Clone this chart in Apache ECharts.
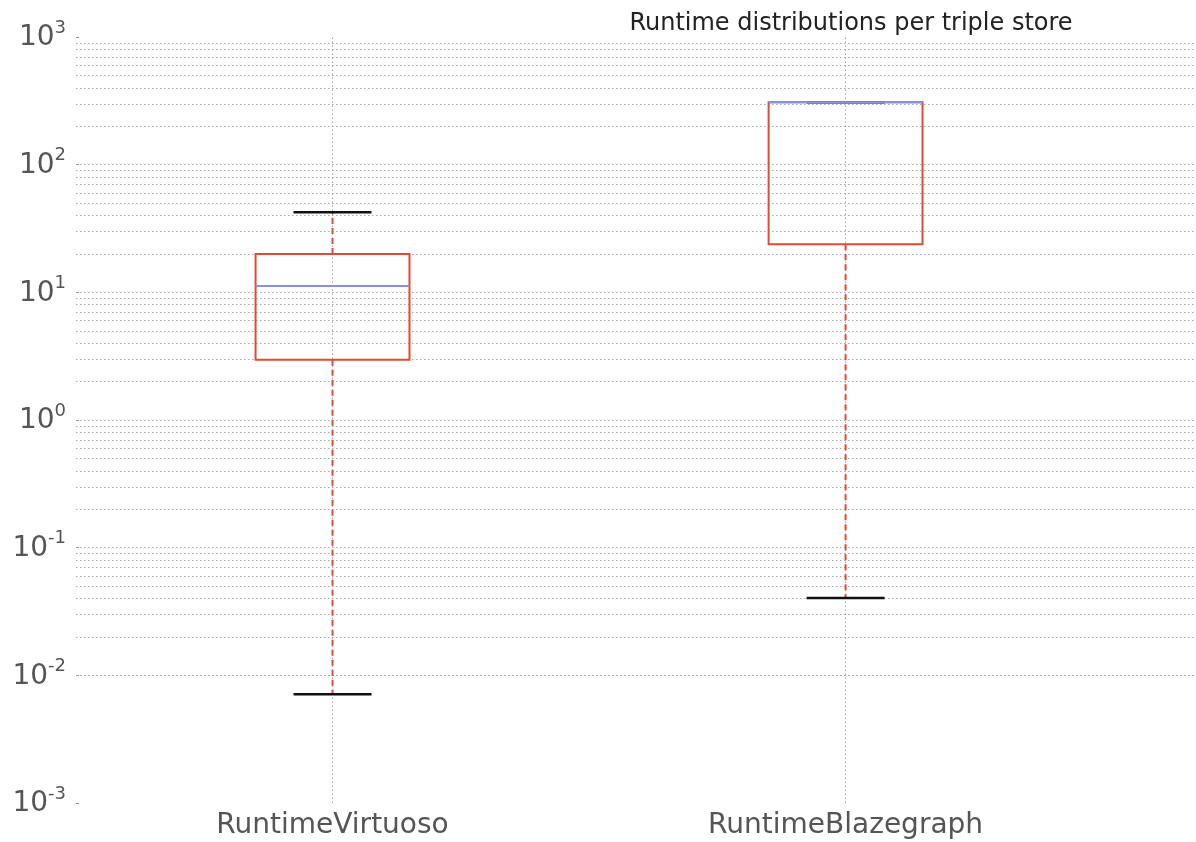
<!DOCTYPE html>
<html>
<head>
<meta charset="utf-8">
<script src="https://cdn.jsdelivr.net/npm/echarts@6/dist/echarts.min.js"></script>
<style>
html,body{margin:0;padding:0;background:#fff;}
#chart{width:1196px;height:842px;}
</style>
</head>
<body>
<div id="chart"></div>
<script>
const categories = ['RuntimeVirtuoso', 'RuntimeBlazegraph'];
const positions = [1, 2];
const whiskerLow = [0.0071, 0.0404];
const q1 = [2.97, 23.8];
const median = [11.2, 308];
const q3 = [20.0, 308];
const whiskerHigh = [42.3, 308];
const title = 'Runtime distributions per triple store';

// grid line values: 1..9 x each decade inside the axis range
const gridValues = [];
for (let k = -3; k <= 2; k++) {
  for (let m = 1; m <= 9; m++) {
    if (k === -3 && m === 1) continue;
    gridValues.push(m * Math.pow(10, k));
  }
}

const boxData = positions.map((p, i) => [p, whiskerLow[i], q1[i], median[i], q3[i], whiskerHigh[i]]);

const FONT = 'DejaVu Sans';
const RED = '#e24a33';
const BLUE = '#8c8ee0';

const chart = echarts.init(document.getElementById('chart'));
chart.setOption({
  animation: false,
  backgroundColor: '#fff',
  title: {
    text: title,
    left: 846,
    top: 7,
    textAlign: 'center',
    textStyle: { fontFamily: FONT, fontSize: 24, fontWeight: 'normal', color: '#222' }
  },
  grid: { left: 76, right: 0, top: 37, bottom: 39, containLabel: false },
  xAxis: {
    type: 'value',
    min: 0.5,
    max: 2.683,
    axisLine: { show: false },
    axisTick: { show: false, customValues: positions },
    splitLine: { show: false },
    axisLabel: {
      customValues: positions,
      formatter: function (v) {
        const i = positions.indexOf(Math.round(v));
        return i >= 0 ? categories[i] : '';
      },
      fontFamily: FONT, fontSize: 28, color: '#555', margin: 9
    }
  },
  yAxis: {
    type: 'log',
    logBase: 10,
    min: 0.001,
    max: 1000,
    axisLine: { show: false },
    axisTick: { show: true, inside: true, length: 3, lineStyle: { color: '#888' } },
    splitLine: { show: false },
    axisLabel: {
      margin: 10,
      formatter: function (v) {
        const e = Math.round(Math.log10(v));
        return '{b|10}{s|' + e + '}';
      },
      rich: {
        b: { fontFamily: FONT, fontSize: 28, color: '#555', verticalAlign: 'bottom', lineHeight: 30 },
        s: { fontFamily: FONT, fontSize: 18, color: '#555', verticalAlign: 'bottom', lineHeight: 30, padding: [0, 0, 15, 0] }
      }
    }
  },
  series: [{
    type: 'custom',
    data: boxData,
    clip: false,
    z: 5,
    renderItem: function (params, api) {
      const x = api.value(0);
      const lo = api.value(1), a = api.value(2), md = api.value(3), b = api.value(4), hi = api.value(5);
      const hw = 0.15, cw = 0.076;
      const pL = api.coord([x - hw, b]);
      const pR = api.coord([x + hw, a]);
      const c = api.coord([x, md]);
      const yLo = api.coord([x, lo])[1];
      const yHi = api.coord([x, hi])[1];
      const yA = api.coord([x, a])[1];
      const yB = api.coord([x, b])[1];
      const cL = api.coord([x - cw, lo])[0];
      const cR = api.coord([x + cw, lo])[0];
      const children = [];
      children.push({ type: 'line', shape: { x1: c[0], y1: yA, x2: c[0], y2: yLo }, style: { stroke: RED, lineWidth: 2, lineDash: [6, 4] } });
      if (yHi < yB - 0.5) {
        children.push({ type: 'line', shape: { x1: c[0], y1: yB, x2: c[0], y2: yHi }, style: { stroke: RED, lineWidth: 2, lineDash: [6, 4] } });
      }
      children.push({ type: 'line', shape: { x1: cL, y1: yLo, x2: cR, y2: yLo }, style: { stroke: '#111', lineWidth: 2.5 } });
      children.push({ type: 'line', shape: { x1: cL, y1: yHi, x2: cR, y2: yHi }, style: { stroke: '#111', lineWidth: 2.5 } });
      children.push({ type: 'rect', shape: { x: pL[0], y: yB, width: pR[0] - pL[0], height: yA - yB }, style: { fill: 'none', stroke: RED, lineWidth: 2 } });
      children.push({ type: 'line', shape: { x1: pL[0], y1: c[1], x2: pR[0], y2: c[1] }, style: { stroke: BLUE, lineWidth: 2 } });
      return { type: 'group', children: children };
    },
    markLine: {
      silent: true,
      symbol: 'none',
      label: { show: false },
      z: 1,
      lineStyle: { color: '#a8a8a8', width: 1, type: [1.5, 2.5] },
      data: gridValues.map(v => ({ yAxis: v })).concat(positions.map(p => ({ xAxis: p })))
    }
  }]
});
</script>
</body>
</html>
